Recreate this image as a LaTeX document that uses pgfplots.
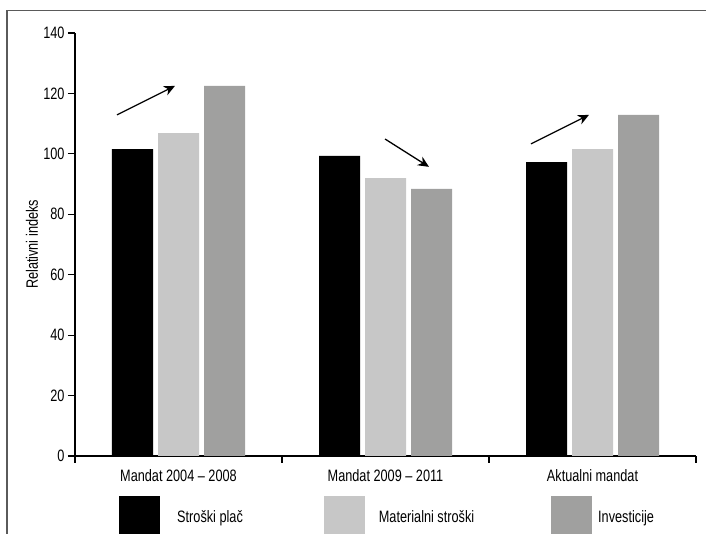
\documentclass[border=0pt]{standalone}
\usepackage{fontspec}
\setmainfont{Liberation Sans}[FakeStretch=0.77]
\usepackage{pgfplots}
\pgfplotsset{compat=1.18}
\usetikzlibrary{arrows.meta}

\definecolor{svetla}{RGB}{199,199,199}
\definecolor{temna}{RGB}{160,160,159}
\definecolor{okvir}{RGB}{90,90,90}

\begin{document}
\begin{tikzpicture}
\begin{axis}[
  at={(0pt,0pt)}, anchor=south west,
  scale only axis, width=621pt, height=423pt,
  xmin=-0.5, xmax=2.5, ymin=0, ymax=140,
  axis x line*=bottom, axis y line*=left,
  axis line style={line width=1.4pt},
  ybar=5pt, bar width=41pt,
  legend image code/.code={\fill[#1] (0pt,-20.5pt) rectangle (41pt,20.5pt);},
  xtick={0,1,2},
  xticklabels={Mandat 2004 -- 2008, Mandat 2009 -- 2011, Aktualni mandat},
  xticklabel style={yshift=-3pt},
  minor xtick={-0.5,0.5,1.5,2.5},
  major x tick style={draw=none},
  minor x tick style={black, line width=1.2pt},
  minor tick length=7pt,
  ytick={0,20,...,140},
  major y tick style={black, line width=1.2pt},
  major tick length=7pt,
  tick align=outside,
  /pgf/number format/assume math mode=true,
  tick label style={font=\fontsize{16.5}{19}\selectfont},
  every axis y label/.style={at={(axis description cs:-0.0692,0.5)}, rotate=90, anchor=center, font=\fontsize{16.5}{19}\selectfont},
  ylabel={Relativni indeks},
  legend columns=3,
  legend style={draw=none, fill=none, at={(axis description cs:0.0709,-0.1442)}, anchor=west,
    inner sep=0pt, font=\fontsize{16.5}{19}\selectfont,
    /tikz/column 1/.style={column sep=15pt},
    /tikz/column 2/.style={column sep=79pt},
    /tikz/column 3/.style={column sep=12pt},
    /tikz/column 4/.style={column sep=75pt},
    /tikz/column 5/.style={column sep=4pt}},
]
\addplot[fill=black, draw=none] coordinates {(0,101.6) (1,99.3) (2,97.3)};
\addlegendentry{Stroški plač}
\addplot[fill=svetla, draw=none] coordinates {(0,106.9) (1,92.0) (2,101.6)};
\addlegendentry{Materialni stroški}
\addplot[fill=temna, draw=none] coordinates {(0,122.5) (1,88.4) (2,112.9)};
\addlegendentry{Investicije}

\draw[-{Stealth[length=11pt,width=10pt]}, line width=1.3pt] (axis cs:-0.297,112.9) -- (axis cs:-0.017,122.5);
\draw[-{Stealth[length=11pt,width=10pt]}, line width=1.3pt] (axis cs:0.998,104.9) -- (axis cs:1.210,95.7);
\draw[-{Stealth[length=11pt,width=10pt]}, line width=1.3pt] (axis cs:1.703,103.3) -- (axis cs:1.983,112.9);
\end{axis}
\draw[okvir, line width=1.3pt] (-68pt,-90pt) -- (-68pt,445.5pt) -- (650pt,445.5pt);
\pgfresetboundingbox
\useasboundingbox (-75pt,-78pt) rectangle (631pt,456pt);
\end{tikzpicture}
\end{document}
